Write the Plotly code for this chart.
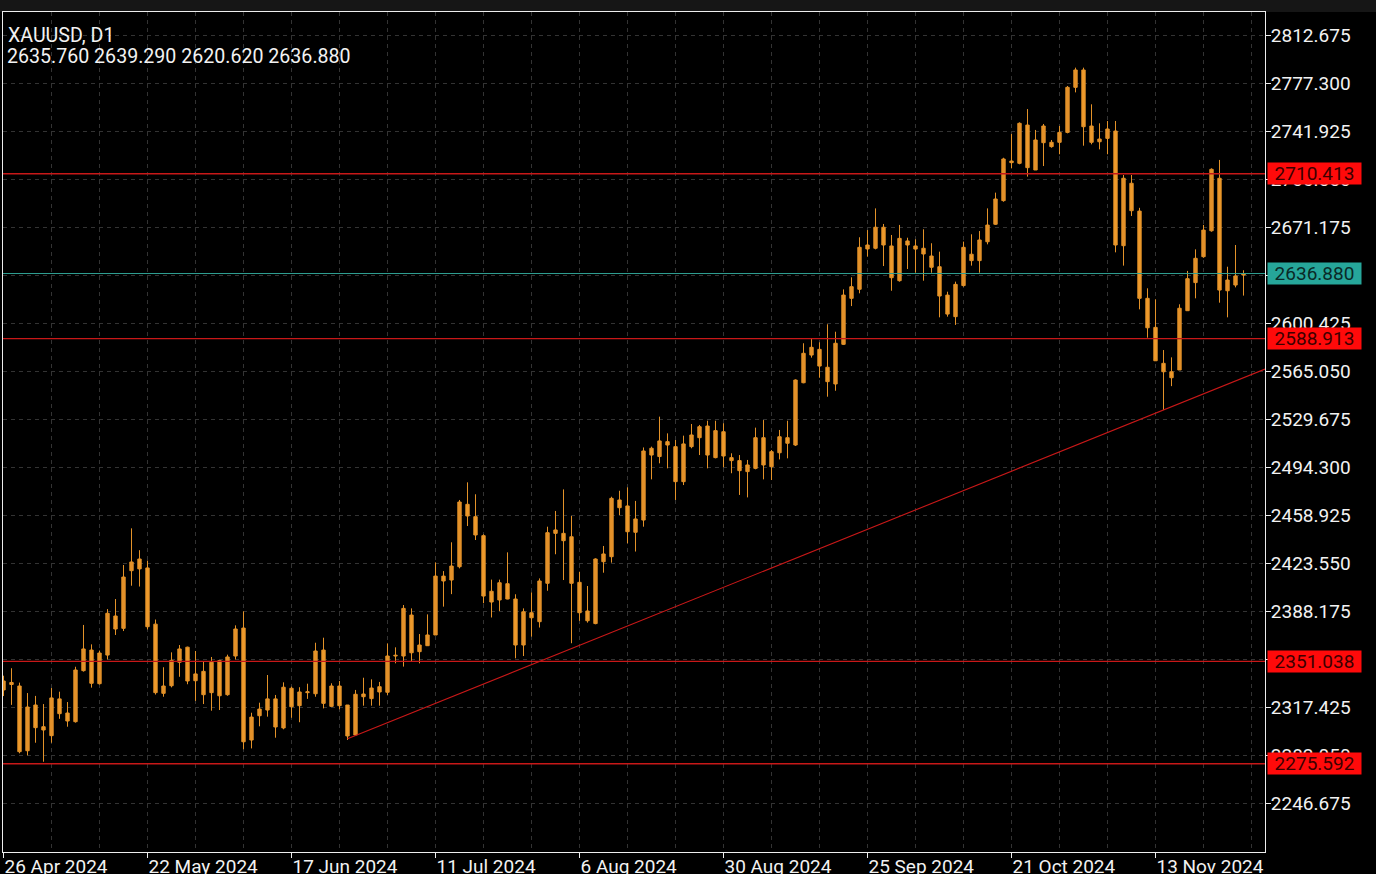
import pandas as pd
import plotly.graph_objects as go

# ---------------- data ----------------
symbol_title = "XAUUSD, D1"
last_ohlc_text = "2635.760 2639.290 2620.620 2636.880"

# trading days (weekdays) plus the broker's short Sunday bar of 27 Oct
dates = list(pd.bdate_range("2024-04-26", "2024-11-28"))
dates.insert(131, pd.Timestamp("2024-10-27"))

open_ = [
    2330.0, 2335.5, 2332.9, 2285.2, 2318.9, 2302.9, 2296.3, 2323.4, 2313.0, 2306.6,
    2344.2, 2359.4, 2334.6, 2355.7, 2384.5, 2375.4, 2417.9, 2426.5, 2419.9, 2378.5,
    2327.5, 2333.1, 2350.4, 2361.5, 2336.8, 2343.7, 2328.0, 2351.6, 2326.5, 2355.0,
    2375.6, 2293.1, 2311.0, 2315.2, 2323.4, 2302.0, 2331.2, 2318.4, 2328.0, 2327.2,
    2359.4, 2317.9, 2332.9, 2318.9, 2296.8, 2327.0, 2323.6, 2332.4, 2328.3, 2355.0,
    2355.0, 2385.2, 2358.2, 2362.6, 2370.5, 2413.9, 2411.0, 2420.8, 2466.8, 2457.7,
    2443.7, 2402.7, 2396.3, 2408.3, 2397.0, 2363.1, 2386.9, 2380.3, 2408.6, 2445.4,
    2445.4, 2442.9, 2409.3, 2388.2, 2378.9, 2424.5, 2428.2, 2470.0, 2465.6, 2446.2,
    2455.2, 2508.1, 2502.0, 2513.0, 2509.3, 2483.5, 2509.3, 2515.9, 2524.5, 2501.2,
    2520.3, 2501.2, 2499.0, 2490.9, 2493.3, 2515.9, 2494.5, 2504.8, 2515.9, 2510.5,
    2556.4, 2576.8, 2581.0, 2567.8, 2555.5, 2584.7, 2618.6, 2625.3, 2655.0, 2655.5,
    2671.0, 2657.2, 2631.6, 2660.9, 2657.2, 2655.5, 2649.8, 2641.9, 2621.0, 2605.1,
    2628.0, 2651.1, 2646.4, 2660.3, 2673.2, 2690.6, 2719.8, 2718.1, 2746.3, 2713.2,
    2733.3, 2733.6, 2733.6, 2740.9, 2774.1, 2786.9, 2745.6, 2734.0, 2736.5, 2741.9,
    2657.4, 2703.4, 2682.9, 2618.6, 2597.2, 2570.7, 2564.5, 2565.8, 2609.5, 2630.2,
    2649.3, 2668.4, 2707.1, 2624.2, 2628.4, 2635.76,
]
high = [
    2340.5, 2346.0, 2335.4, 2327.7, 2325.6, 2319.6, 2331.4, 2328.7, 2321.1, 2347.1,
    2377.9, 2363.6, 2359.0, 2389.6, 2397.0, 2422.1, 2449.1, 2433.0, 2425.3, 2381.9,
    2346.7, 2357.7, 2363.1, 2361.9, 2358.7, 2351.3, 2354.3, 2351.8, 2356.0, 2377.6,
    2387.9, 2313.2, 2320.6, 2341.0, 2326.3, 2335.6, 2332.4, 2332.0, 2334.6, 2364.8,
    2368.5, 2334.9, 2336.6, 2318.9, 2330.0, 2339.0, 2337.8, 2335.9, 2364.3, 2361.4,
    2392.6, 2390.1, 2371.2, 2385.7, 2424.0, 2417.6, 2438.8, 2470.0, 2483.0, 2474.2,
    2444.7, 2411.3, 2411.3, 2431.4, 2400.5, 2390.1, 2401.9, 2412.2, 2450.3, 2461.9,
    2477.8, 2458.2, 2417.1, 2406.6, 2427.0, 2436.1, 2472.4, 2476.8, 2479.3, 2469.3,
    2508.7, 2509.3, 2531.4, 2519.1, 2514.2, 2517.4, 2526.0, 2525.3, 2528.4, 2528.4,
    2526.5, 2504.4, 2503.1, 2499.5, 2523.3, 2528.9, 2506.8, 2521.6, 2528.4, 2558.9,
    2585.5, 2588.6, 2586.2, 2599.5, 2594.0, 2625.2, 2634.1, 2663.6, 2668.9, 2684.9,
    2673.4, 2665.3, 2672.7, 2663.3, 2662.1, 2669.5, 2659.2, 2653.0, 2623.5, 2630.9,
    2660.4, 2665.8, 2668.2, 2684.9, 2696.5, 2722.2, 2739.7, 2748.3, 2758.1, 2742.7,
    2747.1, 2735.3, 2745.6, 2775.1, 2788.6, 2788.6, 2761.6, 2747.6, 2749.3, 2749.3,
    2709.5, 2709.5, 2685.3, 2626.0, 2617.9, 2580.5, 2575.1, 2614.2, 2638.8, 2654.7,
    2672.7, 2714.4, 2720.6, 2641.9, 2657.9, 2639.29,
]
low = [
    2325.5, 2319.0, 2283.3, 2281.8, 2291.1, 2277.1, 2291.1, 2308.7, 2302.9, 2305.9,
    2343.5, 2331.7, 2334.0, 2352.5, 2370.5, 2373.4, 2406.8, 2406.2, 2374.6, 2326.6,
    2325.0, 2331.9, 2339.7, 2334.2, 2321.9, 2319.6, 2314.7, 2315.2, 2325.7, 2352.5,
    2286.3, 2286.9, 2303.2, 2310.3, 2294.8, 2301.0, 2309.5, 2306.2, 2323.4, 2325.0,
    2316.4, 2317.4, 2315.7, 2293.1, 2296.1, 2318.4, 2318.4, 2318.4, 2326.3, 2349.6,
    2347.2, 2350.8, 2349.6, 2362.4, 2370.5, 2391.4, 2400.6, 2419.6, 2450.8, 2440.5,
    2393.9, 2383.4, 2388.2, 2396.8, 2353.3, 2355.0, 2369.3, 2376.0, 2403.1, 2430.0,
    2411.0, 2364.4, 2380.9, 2379.6, 2378.4, 2416.4, 2423.8, 2458.9, 2438.1, 2432.0,
    2450.3, 2485.2, 2497.0, 2493.3, 2470.0, 2481.0, 2508.1, 2503.1, 2493.3, 2500.7,
    2494.1, 2489.7, 2473.7, 2471.9, 2492.6, 2485.2, 2484.7, 2499.9, 2500.7, 2509.8,
    2556.0, 2574.9, 2560.1, 2546.1, 2550.5, 2584.2, 2612.9, 2622.3, 2649.3, 2654.7,
    2642.4, 2624.2, 2630.9, 2640.2, 2637.5, 2631.6, 2637.5, 2604.6, 2605.1, 2599.0,
    2627.2, 2642.7, 2637.5, 2658.4, 2672.7, 2689.8, 2714.4, 2717.4, 2708.3, 2713.2,
    2716.1, 2729.6, 2724.8, 2740.2, 2770.4, 2731.1, 2732.1, 2728.4, 2724.8, 2652.5,
    2642.7, 2679.3, 2610.5, 2589.6, 2572.4, 2536.3, 2553.9, 2565.8, 2609.5, 2618.6,
    2648.5, 2667.7, 2615.4, 2604.6, 2626.7, 2620.62,
]
close = [
    2336.6, 2334.0, 2284.5, 2317.4, 2302.2, 2300.5, 2324.1, 2312.5, 2307.1, 2344.7,
    2360.2, 2334.9, 2357.2, 2386.5, 2374.9, 2413.2, 2424.3, 2419.2, 2376.6, 2328.0,
    2332.9, 2351.8, 2360.2, 2336.6, 2341.8, 2326.5, 2350.4, 2325.7, 2354.3, 2374.9,
    2291.8, 2310.0, 2315.9, 2323.4, 2302.7, 2332.0, 2317.6, 2328.5, 2328.6, 2358.7,
    2320.1, 2332.9, 2318.4, 2296.1, 2326.8, 2325.0, 2331.4, 2328.5, 2355.0, 2355.5,
    2390.1, 2357.4, 2363.1, 2370.5, 2413.9, 2410.3, 2421.3, 2468.5, 2458.2, 2444.2,
    2399.2, 2394.8, 2409.0, 2397.0, 2363.1, 2387.6, 2383.2, 2410.3, 2445.9, 2447.9,
    2440.0, 2408.6, 2386.9, 2381.0, 2426.5, 2430.2, 2471.2, 2464.3, 2446.6, 2456.0,
    2506.1, 2503.1, 2513.5, 2510.5, 2483.5, 2511.3, 2517.9, 2524.0, 2503.1, 2521.1,
    2502.4, 2499.0, 2491.6, 2495.8, 2515.9, 2495.8, 2505.6, 2516.6, 2511.8, 2558.4,
    2578.1, 2582.5, 2568.7, 2557.2, 2585.5, 2621.0, 2627.2, 2656.2, 2657.9, 2671.0,
    2657.9, 2633.8, 2662.8, 2657.9, 2654.9, 2651.3, 2641.5, 2620.3, 2607.0, 2628.9,
    2656.2, 2646.4, 2661.6, 2672.6, 2691.8, 2721.3, 2718.6, 2747.6, 2714.9, 2735.3,
    2745.6, 2730.4, 2740.9, 2774.1, 2786.9, 2745.1, 2733.6, 2736.0, 2743.4, 2657.9,
    2707.1, 2683.2, 2618.6, 2596.9, 2572.6, 2564.5, 2560.1, 2611.3, 2633.1, 2648.1,
    2668.9, 2713.7, 2624.7, 2632.1, 2635.1, 2636.88,
]

x_tick_labels = ["26 Apr 2024", "22 May 2024", "17 Jun 2024", "11 Jul 2024", "6 Aug 2024",
                 "30 Aug 2024", "25 Sep 2024", "21 Oct 2024", "13 Nov 2024"]
y_tick_vals = [2246.675, 2282.050, 2317.425, 2352.800, 2388.175, 2423.550, 2458.925,
               2494.300, 2529.675, 2565.050, 2600.425, 2635.800, 2671.175, 2706.550,
               2741.925, 2777.300, 2812.675]

levels = [2710.413, 2588.913, 2351.038, 2275.592]
current_price = 2636.880
trend_anchor_a = ("2024-06-26", 2294.0)
trend_anchor_b = ("2024-11-14", 2536.3)

# ---------------- styling ----------------
FONT = "Roboto"
BG = "#000000"
CANDLE_FILL = "#EE9A2C"
CANDLE_LINE = "#E39229"
RED_LINE = "#C81818"
RED_BOX = "#FF0A0A"
TEAL = "#26A69A"
GRID = "#333333"

W, H = 1376, 874
ML, MR, MT, MB = 3, 111, 12, 22
plot_w = W - ML - MR
plot_h = H - MT - MB

x_idx = list(range(len(dates)))
date_key = [d.strftime("%Y-%m-%d") for d in dates]
tick_pos = []
for lab in x_tick_labels:
    d = pd.to_datetime(lab, format="%d %b %Y")
    tick_pos.append(date_key.index(d.strftime("%Y-%m-%d")))

x_range = [-0.0625, -0.0625 + plot_w / 8.0]
y_range = [2210.565, 2829.625]

fig = go.Figure()
fig.add_trace(go.Candlestick(
    x=x_idx, open=open_, high=high, low=low, close=close,
    increasing=dict(line=dict(color=CANDLE_LINE, width=1), fillcolor="#E3912A"),
    decreasing=dict(line=dict(color=CANDLE_LINE, width=1), fillcolor=CANDLE_FILL),
    whiskerwidth=0, showlegend=False, hoverinfo="skip",
))

# horizontal support / resistance lines
for lv in levels:
    fig.add_shape(type="line", xref="paper", yref="y", x0=0, x1=1, y0=lv, y1=lv,
                  line=dict(color=RED_LINE, width=1.3), layer="above")
fig.add_shape(type="line", xref="paper", yref="y", x0=0, x1=1,
              y0=current_price, y1=current_price,
              line=dict(color="#2FA093", width=1), layer="above")

# trend line (anchored at two lows, extended to the right edge)
ia = date_key.index(trend_anchor_a[0])
ib = date_key.index(trend_anchor_b[0])
slope = (trend_anchor_b[1] - trend_anchor_a[1]) / (ib - ia)
x_end = x_range[1]
fig.add_shape(type="line", xref="x", yref="y", x0=ia, y0=trend_anchor_a[1],
              x1=x_end, y1=trend_anchor_a[1] + slope * (x_end - ia),
              line=dict(color=RED_LINE, width=1.1), layer="above")

# grey strip above plot
fig.add_shape(type="rect", xref="paper", yref="paper", x0=-ML / plot_w, x1=1 + MR / plot_w,
              y0=1, y1=1 + MT / plot_h, fillcolor="#161616", line=dict(width=0), layer="below")

# price labels on the right axis
box_x = 1 + 2 / plot_w
for lv in levels:
    fig.add_annotation(xref="paper", yref="y", x=box_x, y=lv, xanchor="left", yanchor="middle",
                       text=f"{lv:.3f}", showarrow=False, bgcolor=RED_BOX,
                       font=dict(family=FONT, size=19, color="#3C0000"),
                       width=89, height=17, borderpad=2, align="center")
fig.add_annotation(xref="paper", yref="y", x=box_x, y=current_price, xanchor="left", yanchor="middle",
                   text=f"{current_price:.3f}", showarrow=False, bgcolor=TEAL,
                   font=dict(family=FONT, size=19, color="#0A2A27"),
                   width=89, height=17, borderpad=2, align="center")

# title texts
fig.add_annotation(xref="paper", yref="paper", x=3 / plot_w, y=1 - (35 - MT) / plot_h,
                   xanchor="left", yanchor="middle", text=symbol_title, showarrow=False,
                   font=dict(family=FONT, size=19.6, color="#F2F2F2"))
fig.add_annotation(xref="paper", yref="paper", x=2 / plot_w, y=1 - (56.5 - MT) / plot_h,
                   xanchor="left", yanchor="middle", text=last_ohlc_text, showarrow=False,
                   font=dict(family=FONT, size=19.6, color="#F2F2F2"))

fig.update_layout(
    width=W, height=H,
    margin=dict(l=ML, r=MR, t=MT, b=MB, pad=0, autoexpand=False),
    paper_bgcolor=BG, plot_bgcolor=BG,
    boxgap=0.4,
    showlegend=False,
    font=dict(family=FONT, size=19, color="#F2F2F2"),
    xaxis=dict(
        type="linear", range=x_range, rangeslider=dict(visible=False),
        automargin=False,
        tickmode="array", tickvals=tick_pos, ticktext=x_tick_labels,
        ticks="outside", ticklen=5, tickcolor="#EDEDED", tickwidth=1,
        ticklabelposition="outside right", ticklabelstandoff=-3,
        showline=True, linecolor="#EDEDED", linewidth=1, mirror=True,
        showgrid=True, gridcolor=GRID, griddash="4px,4px", gridwidth=1,
        minor=dict(tickmode="linear", tick0=0, dtick=6, showgrid=True, gridcolor=GRID,
                   griddash="4px,4px", ticks=""),
        zeroline=False, fixedrange=True,
        tickfont=dict(family=FONT, size=19, color="#F2F2F2"),
    ),
    yaxis=dict(
        side="right", range=y_range, automargin=False,
        tickmode="array", tickvals=y_tick_vals, tickformat=".3f",
        ticks="outside", ticklen=5, tickcolor="#EDEDED", tickwidth=1,
        ticklabelstandoff=-4,
        showline=True, linecolor="#EDEDED", linewidth=1, mirror=True,
        showgrid=True, gridcolor=GRID, griddash="4px,4px", gridwidth=1,
        zeroline=False, fixedrange=True,
        tickfont=dict(family=FONT, size=19, color="#F2F2F2"),
    ),
)

fig.write_html("out.html",
               config={"displayModeBar": False},
               post_script="document.body.style.margin='0px';"
                           "document.body.style.background='#000000';")
